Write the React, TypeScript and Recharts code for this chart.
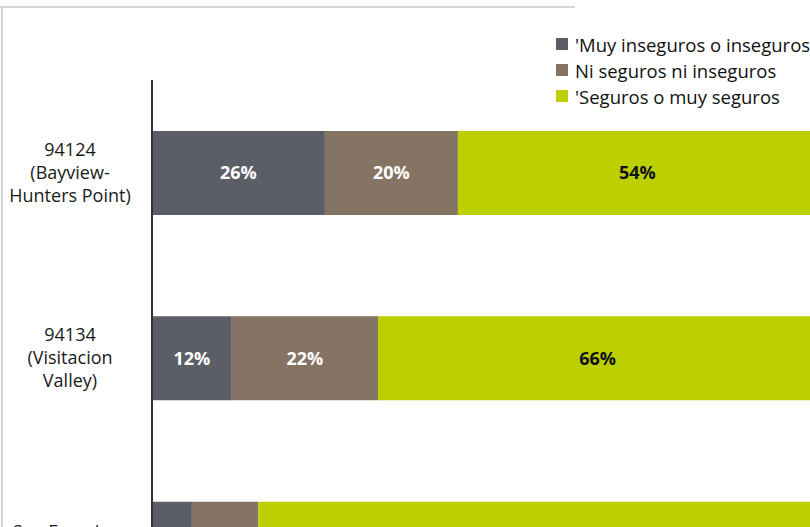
import { Bar, BarChart, LabelList, XAxis, YAxis } from "recharts"

const zones = ["94124", "94134", "SF"]
const zoneLines: Record<string, string[]> = {
  "94124": ["94124", "(Bayview-", "Hunters Point)"],
  "94134": ["94134", "(Visitacion", "Valley)"],
  SF: ["San Francisco", "(total)"],
}
const inseguros = [26, 12, 6]
const neutros = [20, 22, 10]
const seguros = [54, 66, 84]

const seriesNames = ["'Muy inseguros o inseguros", "Ni seguros ni inseguros", "'Seguros o muy seguros"]
const colors = ["#5b5e66", "#857463", "#bccf00"]

const data = zones.map((zone, i) => ({
  zone,
  inseguros: inseguros[i],
  neutros: neutros[i],
  seguros: seguros[i],
}))

const font = "'Open Sans', 'Noto Sans', sans-serif"

function ZoneTick(props: any) {
  const { x, y, payload } = props
  const lines = zoneLines[payload.value] || [payload.value]
  const start = -((lines.length - 1) * 23) / 2
  return (
    <text x={x - 74} y={y} textAnchor="middle" fill="#1a1a1a" fontSize={18} fontFamily={font}>
      {lines.map((l, i) => (
        <tspan key={i} x={x - 74} dy={i === 0 ? start + 6 : 23}>
          {l}
        </tspan>
      ))}
    </text>
  )
}

function LegendBox() {
  return (
    <div style={{ position: "absolute", left: 556, top: 31, fontFamily: font, fontSize: 18.5, color: "#111" }}>
      {seriesNames.map((name, i) => (
        <div key={name} style={{ display: "flex", alignItems: "center", height: 26, whiteSpace: "nowrap" }}>
          <span style={{ width: 12, height: 12, background: colors[i], marginRight: 7, display: "inline-block" }} />
          <span>{name}</span>
        </div>
      ))}
    </div>
  )
}

const pct = (v: any) => `${v}%`

export default function App() {
  return (
    <div
      style={{
        position: "fixed",
        top: 0,
        left: 0,
        width: 810,
        height: 527,
        overflow: "hidden",
        background: "#fff",
      }}
    >
      <div style={{ position: "absolute", left: 0, top: 6, width: 575, height: 2, background: "#d6d6d6" }} />
      <div style={{ position: "absolute", left: 1, top: 6, width: 2, height: 530, background: "#d6d6d6" }} />
      <BarChart
        width={817}
        height={640}
        data={data}
        layout="vertical"
        margin={{ top: 80, right: 0, bottom: 4, left: 0 }}
        barSize={84}
      >
        <XAxis type="number" domain={[0, 100]} hide />
        <YAxis
          type="category"
          dataKey="zone"
          width={152}
          axisLine={{ stroke: "#333", strokeWidth: 2 }}
          tickLine={false}
          tick={<ZoneTick />}
        />
        <Bar dataKey="inseguros" stackId="a" fill={colors[0]} isAnimationActive={false}>
          <LabelList dataKey="inseguros" position="center" formatter={pct} fill="#fff" fontSize={18} fontWeight={700} fontFamily={font} />
        </Bar>
        <Bar dataKey="neutros" stackId="a" fill={colors[1]} isAnimationActive={false}>
          <LabelList dataKey="neutros" position="center" formatter={pct} fill="#fff" fontSize={18} fontWeight={700} fontFamily={font} />
        </Bar>
        <Bar dataKey="seguros" stackId="a" fill={colors[2]} isAnimationActive={false}>
          <LabelList dataKey="seguros" position="center" formatter={pct} fill="#111" fontSize={18} fontWeight={700} fontFamily={font} />
        </Bar>
      </BarChart>
      <LegendBox />
    </div>
  )
}
